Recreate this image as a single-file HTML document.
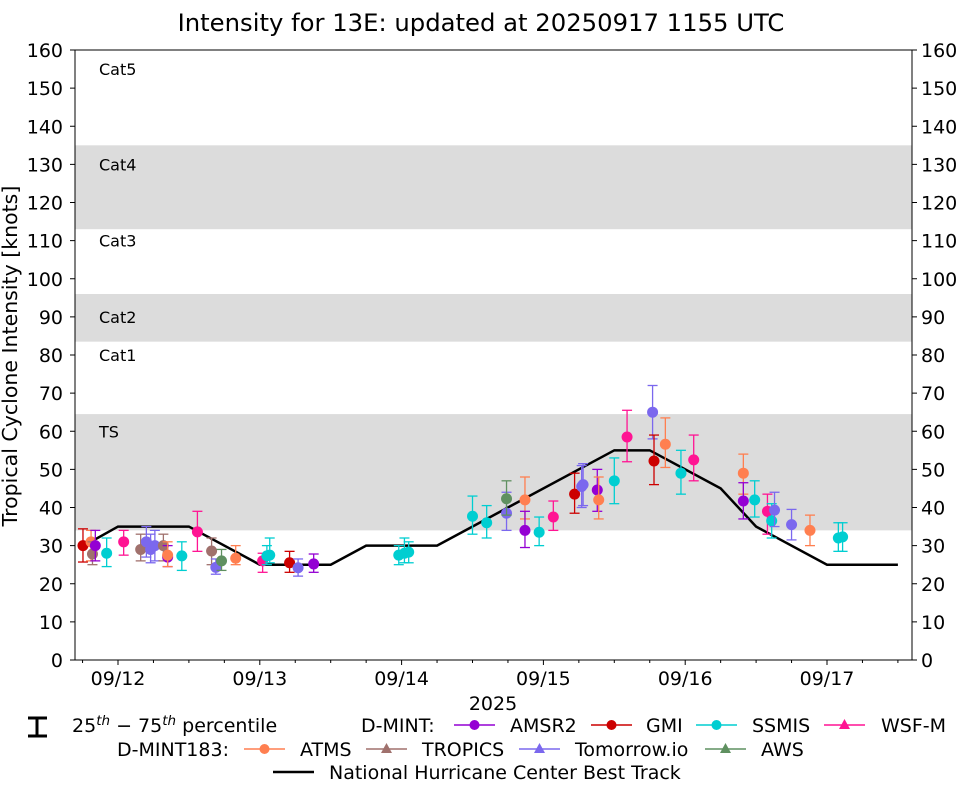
<!DOCTYPE html>
<html><head><meta charset="utf-8">
<style>
html,body{margin:0;padding:0;background:#fff;}
svg{display:block;font-family:"DejaVu Sans","Liberation Sans",sans-serif;}
</style></head>
<body>
<svg id="chart" width="962" height="785" viewBox="0 0 962 785" xmlns="http://www.w3.org/2000/svg">
<text x="481" y="31" text-anchor="middle" font-size="24.3">Intensity for 13E: updated at 20250917 1155 UTC</text>
<g id="bands"></g>
<g id="axes"></g>
<g id="track"></g>
<g id="points"></g>
<g id="legend"></g>
</svg>
<script>
// ---- data ----
const yTicks = [0,10,20,30,40,50,60,70,80,90,100,110,120,130,140,150,160];
const xTickDays = [0,1,2,3,4,5];
const xTickLabels = ["09/12","09/13","09/14","09/15","09/16","09/17"];
const bandLow = [34,83.5,113];
const bandHigh = [64.5,96,135];
const catNames = ["Cat5","Cat4","Cat3","Cat2","Cat1","TS"];
const catValues = [155,130,110,90,80,60];
const trackDays = [-0.24,0,0.5,1.0,1.5,1.75,2.25,3.5,3.75,4.25,4.5,5.0,5.5];
const trackValues = [30,35,35,25,25,30,30,55,55,45,35,25,25];
// observations: sensor, day, value, p25, p75
const obsSensor = ["GMI","ATMS","TROPICS","AMSR2","SSMIS","WSF-M","TROPICS","Tomorrow.io","Tomorrow.io","Tomorrow.io","TROPICS","AMSR2","ATMS","SSMIS","WSF-M","TROPICS","Tomorrow.io","AWS","ATMS","WSF-M","SSMIS","SSMIS","GMI","Tomorrow.io","AMSR2","SSMIS","SSMIS","SSMIS","SSMIS","SSMIS","Tomorrow.io","AWS","ATMS","AMSR2","SSMIS","WSF-M","GMI","Tomorrow.io","Tomorrow.io","AMSR2","ATMS","SSMIS","WSF-M","Tomorrow.io","GMI","ATMS","SSMIS","WSF-M","ATMS","AMSR2","SSMIS","WSF-M","SSMIS","Tomorrow.io","Tomorrow.io","ATMS","SSMIS","SSMIS"];
const obsDay = [-0.247,-0.19,-0.18,-0.16,-0.08,0.04,0.16,0.2,0.23,0.26,0.32,0.35,0.35,0.45,0.56,0.66,0.69,0.73,0.83,1.02,1.05,1.07,1.21,1.27,1.38,1.98,2.02,2.05,2.5,2.6,2.74,2.74,2.87,2.87,2.97,3.07,3.22,3.27,3.28,3.38,3.39,3.5,3.59,3.77,3.78,3.86,3.97,4.06,4.41,4.41,4.49,4.58,4.61,4.63,4.75,4.88,5.08,5.11];
const obsValue = [30,31,27.8,30,28,31,29,31,29,30,30,27,27.5,27.3,33.6,28.6,24.3,26,26.7,26,27.3,27.5,25.5,24.2,25.2,27.5,28,28.3,37.7,36,38.5,42.3,42,34,33.5,37.5,43.5,45.5,46,44.6,42,47,58.5,65,52.2,56.6,49,52.5,49,41.7,42,39,36.5,39.3,35.5,34,32,32.3];
const obsLow = [25.7,26,25,26,24.5,27.5,26,27,25.5,26,26,24.5,24.5,23.5,28.5,25,22.5,23.5,25,23,25,25.5,23,22,23,25,25.5,25.5,33,32,34,38,37,29.5,30,34,38.5,40,40.5,39,37,41,52,58,46,50.5,43.5,47,43.5,37,37.5,33,32,35,31.5,30,28.5,28.5];
const obsHigh = [34.4,34,31,34,32,34,33,35,33,34,33,30,31,31,39,32,26.5,29,30,28,30,32,28.5,26.5,27.8,30,32,31,43,40.5,44,47,48,39,37.5,41.7,49,51,51.5,50,48,53,65.5,72,59,63.5,55,59,54,46.5,47,43.5,41,44,39.5,38,36,36];
const sensorColor = {"AMSR2":"#9400d3","GMI":"#cc0000","SSMIS":"#00ced1","WSF-M":"#ff1493","ATMS":"#ff7f50","TROPICS":"#a0716d","Tomorrow.io":"#7b68ee","AWS":"#5f9060"};

// ---- axes ----
const X0=75,X1=912,Y0=660,Y1=50;
const xS = d => 118 + d*141.8;
const yS = v => Y0 - v*(Y0-Y1)/160;
const NS="http://www.w3.org/2000/svg";
function mk(tag, attrs, parent, text){
  const e=document.createElementNS(NS,tag);
  for(const k in attrs) e.setAttribute(k,attrs[k]);
  if(text!==undefined) e.textContent=text;
  parent.appendChild(e); return e;
}
const gB=document.getElementById('bands'), gA=document.getElementById('axes'), gT=document.getElementById('track'), gP=document.getElementById('points'), gL=document.getElementById('legend');

bandLow.forEach((lo,i)=>{
  const r=mk('rect',{x:X0,y:yS(bandHigh[i]),width:X1-X0,height:yS(lo)-yS(bandHigh[i]),fill:'#dcdcdc'},gB);
  
  
});
catNames.forEach((n,i)=>{
  const t=mk('text',{x:99,y:yS(catValues[i])+6,'font-size':16},gB,n);
  
  
});

const frame=mk('rect',{x:X0,y:Y1,width:X1-X0,height:Y0-Y1,fill:'none',stroke:'#000','stroke-width':1},gA);


yTicks.forEach(v=>{
  const y=yS(v);
  mk('line',{x1:X0-5,x2:X0,y1:y,y2:y,stroke:'#000'},gA);
  mk('line',{x1:X1,x2:X1+5,y1:y,y2:y,stroke:'#000'},gA);
  const l=mk('text',{x:X0-12,y:y+7,'text-anchor':'end','font-size':19},gA,String(v));
  
  
  const r=mk('text',{x:X1+9,y:y+7,'text-anchor':'start','font-size':19},gA,String(v));
  
  
});
for(let q=-1;q<=22;q++){
  const x=xS(q/4);
  if(x<X0||x>X1||q%4===0) continue;
  mk('line',{x1:x,x2:x,y1:Y0,y2:Y0+3,stroke:'#000'},gA);
}
xTickDays.forEach((d,i)=>{
  const x=xS(d);
  mk('line',{x1:x,x2:x,y1:Y0,y2:Y0+5,stroke:'#000'},gA);
  const t=mk('text',{x:x,y:685,'text-anchor':'middle','font-size':19},gA,xTickLabels[i]);
  
  
});
const xt=mk('text',{x:493,y:710,'text-anchor':'middle','font-size':19},gA,'2025');


const yt=mk('text',{x:0,y:0,'text-anchor':'middle','font-size':20.5,transform:'translate(17,356) rotate(-90)'},gA,'Tropical Cyclone Intensity [knots]');



// best track
const pts=trackDays.map((d,i)=>xS(d)+','+yS(trackValues[i])).join(' ');
const tl=mk('polyline',{points:pts,fill:'none',stroke:'#000','stroke-width':2.5,'stroke-linejoin':'miter'},gT);



// observations
obsDay.forEach((d,i)=>{
  const c=sensorColor[obsSensor[i]], x=xS(d);
  const g=mk('g',{},gP);
  
  
  mk('line',{x1:x,x2:x,y1:yS(obsLow[i]),y2:yS(obsHigh[i]),stroke:c,'stroke-width':1.3},g);
  mk('line',{x1:x-5,x2:x+5,y1:yS(obsLow[i]),y2:yS(obsLow[i]),stroke:c,'stroke-width':1.3},g);
  mk('line',{x1:x-5,x2:x+5,y1:yS(obsHigh[i]),y2:yS(obsHigh[i]),stroke:c,'stroke-width':1.3},g);
  mk('circle',{cx:x,cy:yS(obsValue[i]),r:5.5,fill:c},g);
});

// legend
function legEntry(x,y,color,label,marker,tx){
  const g=mk('g',{},gL);
  
  
  mk('line',{x1:x,x2:x+41,y1:y,y2:y,stroke:color,'stroke-width':marker?1.6:2.5},g);
  if(marker==='o') mk('circle',{cx:x+20.5,cy:y,r:5,fill:color},g);
  if(marker==='^') mk('polygon',{points:`${x+20.5},${y-6} ${x+26},${y+4} ${x+15},${y+4}`,fill:color},g);
  mk('text',{x:tx,y:y+7,'font-size':19},g,label);
}
const ib=mk('g',{},gL);


mk('line',{x1:37,x2:37,y1:718,y2:736,stroke:'#000','stroke-width':3},ib);
mk('line',{x1:28,x2:47,y1:718,y2:718,stroke:'#000','stroke-width':3},ib);
mk('line',{x1:28,x2:47,y1:736,y2:736,stroke:'#000','stroke-width':3},ib);
const pt=mk('text',{x:72,y:732,'font-size':19},gL);


pt.innerHTML='25<tspan dy="-7" font-size="13.5" font-style="italic">th</tspan><tspan dy="7"> − 75</tspan><tspan dy="-7" font-size="13.5" font-style="italic">th</tspan><tspan dy="7"> percentile</tspan>';
const dm=mk('text',{x:361,y:732,'font-size':19},gL,'D-MINT:');


legEntry(454,725,sensorColor["AMSR2"],'AMSR2','o',510);
legEntry(591,725,sensorColor["GMI"],'GMI','o',646);
legEntry(696,725,sensorColor["SSMIS"],'SSMIS','o',752);
legEntry(824,725,sensorColor["WSF-M"],'WSF-M','^',881);
const dm2=mk('text',{x:117,y:756,'font-size':19},gL,'D-MINT183:');


legEntry(244,749,sensorColor["ATMS"],'ATMS','o',300);
legEntry(366,749,sensorColor["TROPICS"],'TROPICS','^',422);
legEntry(519,749,sensorColor["Tomorrow.io"],'Tomorrow.io','^',575);
legEntry(705,749,sensorColor["AWS"],'AWS','^',761);
legEntry(273,772,'#000','National Hurricane Center Best Track',null,329);
</script>
</body></html>
